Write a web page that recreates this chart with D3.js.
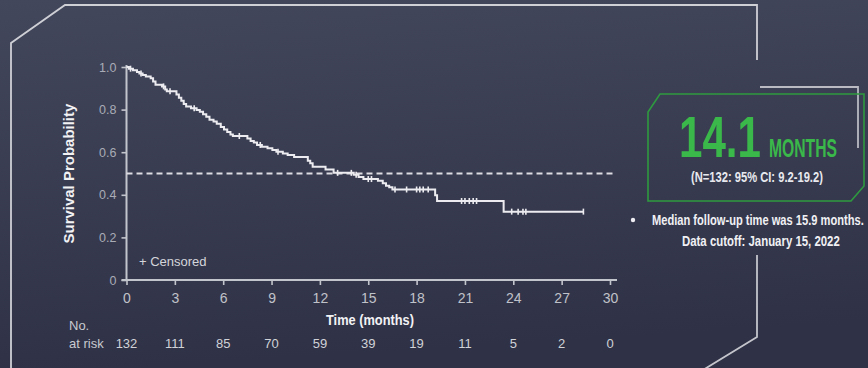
<!DOCTYPE html>
<html>
<head>
<meta charset="utf-8">
<script src="https://cdn.jsdelivr.net/npm/d3@7"></script>
<style>
  html, body { margin: 0; padding: 0; background: #383c51; }
  svg { display: block; }
  text { font-family: "Liberation Sans", Arial, sans-serif; }
</style>
</head>
<body>
<div id="chart"></div>
<script>
// Kaplan–Meier estimate: time of each event step (months) and survival after the step
const eventTimes = [0.15, 0.4, 0.65, 0.8, 1.0, 1.2, 1.5, 1.65, 1.8, 2.2, 2.4, 2.5,
  3.1, 3.25, 3.4, 3.55, 3.7, 4.0, 4.35, 4.55, 4.75, 4.95, 5.15, 5.4, 5.6, 5.85,
  6.05, 6.25, 6.45, 6.6, 7.5, 7.7, 7.9, 8.1, 8.4, 8.75, 9.05, 9.3, 9.7, 10.0,
  10.4, 11.25, 11.4, 11.55, 12.35, 12.85, 14.1, 14.4, 14.7, 15.6, 15.9, 16.1,
  16.3, 16.5, 19.15, 19.27, 23.4];
const survival = [0.992, 0.985, 0.977, 0.970, 0.962, 0.955, 0.947, 0.932, 0.917, 0.909, 0.894, 0.886,
  0.871, 0.856, 0.841, 0.826, 0.814, 0.806, 0.798, 0.790, 0.778, 0.767, 0.752, 0.744, 0.733, 0.718,
  0.706, 0.695, 0.683, 0.676, 0.664, 0.652, 0.645, 0.634, 0.626, 0.618, 0.610, 0.602, 0.594, 0.587,
  0.577, 0.560, 0.548, 0.532, 0.519, 0.503, 0.494, 0.484, 0.474, 0.466, 0.454, 0.443,
  0.435, 0.425, 0.398, 0.371, 0.321];
const lastFollowUp = 28.35;

// Censored observations (months)
const censorTimes = [0.25, 0.9, 2.3, 2.7, 4.2, 7.0, 8.3, 9.4, 13.1, 13.95, 14.25, 15.0, 15.2,
  16.66, 17.38, 18.0, 18.2, 18.41, 18.72, 20.79, 21.0, 21.27, 21.51, 21.72,
  23.9, 24.3, 24.6, 24.78, 28.35];

// Axes and risk table
const xTicks = [0, 3, 6, 9, 12, 15, 18, 21, 24, 27, 30];
const yTicks = [0, 0.2, 0.4, 0.6, 0.8, 1.0];
const yTickLabels = ["0", "0.2", "0.4", "0.6", "0.8", "1.0"];
const atRisk = [132, 111, 85, 70, 59, 39, 19, 11, 5, 2, 0];
const medianLevel = 0.5;

const W = 868, H = 368;
const svg = d3.select("#chart").append("svg").attr("width", W).attr("height", H);

// Condensed text: the glyphs are squeezed horizontally to a target width
function condensed(parent, x, y, str, size, width, opts = {}) {
  const g = parent.append("g");
  const t = g.append("text")
    .attr("font-size", size).attr("font-weight", opts.weight || "bold")
    .attr("fill", opts.fill || "#f0f0f4")
    .text(str);
  const natural = t.node().getComputedTextLength();
  const k = width / natural;
  const x0 = opts.anchor === "middle" ? x - width / 2 : x;
  const rot = opts.rotate ? ` rotate(${opts.rotate})` : "";
  if (opts.rotate) {
    g.attr("transform", `translate(${x},${y})${rot} translate(${-width / 2},0) scale(${k},1)`);
  } else {
    g.attr("transform", `translate(${x0},${y}) scale(${k},1)`);
  }
  return t;
}

// Background
const defs = svg.append("defs");
const bg = defs.append("linearGradient").attr("id", "bg")
  .attr("x1", "0").attr("y1", "0").attr("x2", "0.15").attr("y2", "1");
bg.append("stop").attr("offset", "0").attr("stop-color", "#43475c");
bg.append("stop").attr("offset", "1").attr("stop-color", "#2f3246");
svg.append("rect").attr("width", W).attr("height", H).attr("fill", "url(#bg)");

// Decorative frame lines
const frame = svg.append("g").attr("fill", "none").attr("stroke-width", 1.8);
frame.append("path").attr("d", "M11,370 L11,43 L65,5 L757,5 L757,60").attr("stroke", "#cfd0d6");
frame.append("path").attr("d", "M760,87 L858,87 L858,148").attr("stroke", "#b9bac2");
frame.append("path").attr("d", "M757,255 L757,337 L703,370").attr("stroke", "#c4c5cc");

// Scales
const x = d3.scaleLinear().domain([0, 30]).range([126.5, 610]);
const y = d3.scaleLinear().domain([0, 1]).range([280, 67]);

const axisColor = "#c3c5cc";

// Y axis
const yAxis = svg.append("g").attr("transform", `translate(${x(0)},0)`)
  .call(d3.axisLeft(y).tickValues(yTicks).tickSize(5).tickFormat((d, i) => yTickLabels[i]));
yAxis.select(".domain").attr("stroke", axisColor).attr("stroke-width", 2)
  .attr("d", `M0,${y(0) + 1}V${y(1) - 2}`);
yAxis.selectAll(".tick line").attr("stroke", axisColor).attr("stroke-width", 1.6);
yAxis.selectAll(".tick text").attr("fill", "#a9acb6").attr("font-size", 12.5)
  .attr("x", -10).attr("font-family", "Liberation Sans, Arial, sans-serif");

// X axis
const xAxis = svg.append("g").attr("transform", `translate(0,${y(0)})`)
  .call(d3.axisBottom(x).tickValues(xTicks).tickSize(5).tickFormat(d3.format("d")));
xAxis.select(".domain").attr("stroke", axisColor).attr("stroke-width", 2)
  .attr("d", `M${x(0) - 5},0H${x(30) + 7}`);
xAxis.selectAll(".tick line").attr("stroke", axisColor).attr("stroke-width", 1.6);
xAxis.selectAll(".tick text").attr("fill", "#c0c2c9").attr("font-size", 14)
  .attr("y", 0).attr("dy", 23).attr("font-family", "Liberation Sans, Arial, sans-serif");

// Median reference line
svg.append("line")
  .attr("x1", x(0)).attr("x2", x(30.2))
  .attr("y1", y(medianLevel)).attr("y2", y(medianLevel))
  .attr("stroke", "#dcdce2").attr("stroke-width", 2).attr("stroke-dasharray", "6,4");

// Survival curve
const points = [{ t: 0, s: 1 }]
  .concat(eventTimes.map((t, i) => ({ t, s: survival[i] })))
  .concat([{ t: lastFollowUp, s: survival[survival.length - 1] }]);
const line = d3.line().x(d => x(d.t)).y(d => y(d.s)).curve(d3.curveStepAfter);
svg.append("path").datum(points)
  .attr("fill", "none").attr("stroke", "#ececf0").attr("stroke-width", 2)
  .attr("d", line);

// Censor marks
function survAt(t) {
  let s = 1;
  for (let i = 0; i < eventTimes.length; i++) { if (eventTimes[i] <= t) s = survival[i]; }
  return s;
}
svg.append("g").selectAll("line").data(censorTimes).join("line")
  .attr("x1", d => x(d)).attr("x2", d => x(d))
  .attr("y1", d => y(survAt(d)) - 3).attr("y2", d => y(survAt(d)) + 3)
  .attr("stroke", "#ececf0").attr("stroke-width", 1.6);

// Legend
svg.append("text").attr("x", 139).attr("y", 266)
  .attr("fill", "#d4d5db").attr("font-size", 13).text("+ Censored");

// Axis titles
condensed(svg, 74, y(0.5), "Survival Probability", 14.5, 140, { rotate: -90, fill: "#f2f2f5" });
condensed(svg, 326, 325, "Time (months)", 14.5, 88, { fill: "#f2f2f5" });

// Number at risk table
svg.append("text").attr("x", 69).attr("y", 330)
  .attr("fill", "#c8cad0").attr("font-size", 13).text("No.");
svg.append("text").attr("x", 69).attr("y", 348)
  .attr("fill", "#c8cad0").attr("font-size", 13).text("at risk");
svg.append("g").selectAll("text").data(atRisk).join("text")
  .attr("x", (d, i) => x(xTicks[i]))
  .attr("y", 348)
  .attr("text-anchor", "middle")
  .attr("fill", "#d0d2d8").attr("font-size", 13)
  .text(d => d);

// Median overall survival panel
svg.append("path")
  .attr("d", "M660,94 L864,94 L864,186 L851,201 L648,201 L648,112 Z")
  .attr("fill", "none").attr("stroke", "#2e9a3f").attr("stroke-width", 1.6);

const medianValue = "14.1";
const green = "#3ab84a";
condensed(svg, 679, 157, medianValue, 58, 82, { fill: green });
condensed(svg, 769, 157, "MONTHS", 25, 68, { fill: green });
condensed(svg, 691, 182, "(N=132: 95% CI: 9.2-19.2)", 14, 132, { fill: "#e8e9ee" });

svg.append("circle").attr("cx", 633).attr("cy", 220).attr("r", 2.2).attr("fill", "#eeeef2");
condensed(svg, 652, 225, "Median follow-up time was 15.9 months.", 14.5, 212);
condensed(svg, 682, 246, "Data cutoff: January 15, 2022", 14.5, 158);
</script>
</body>
</html>
